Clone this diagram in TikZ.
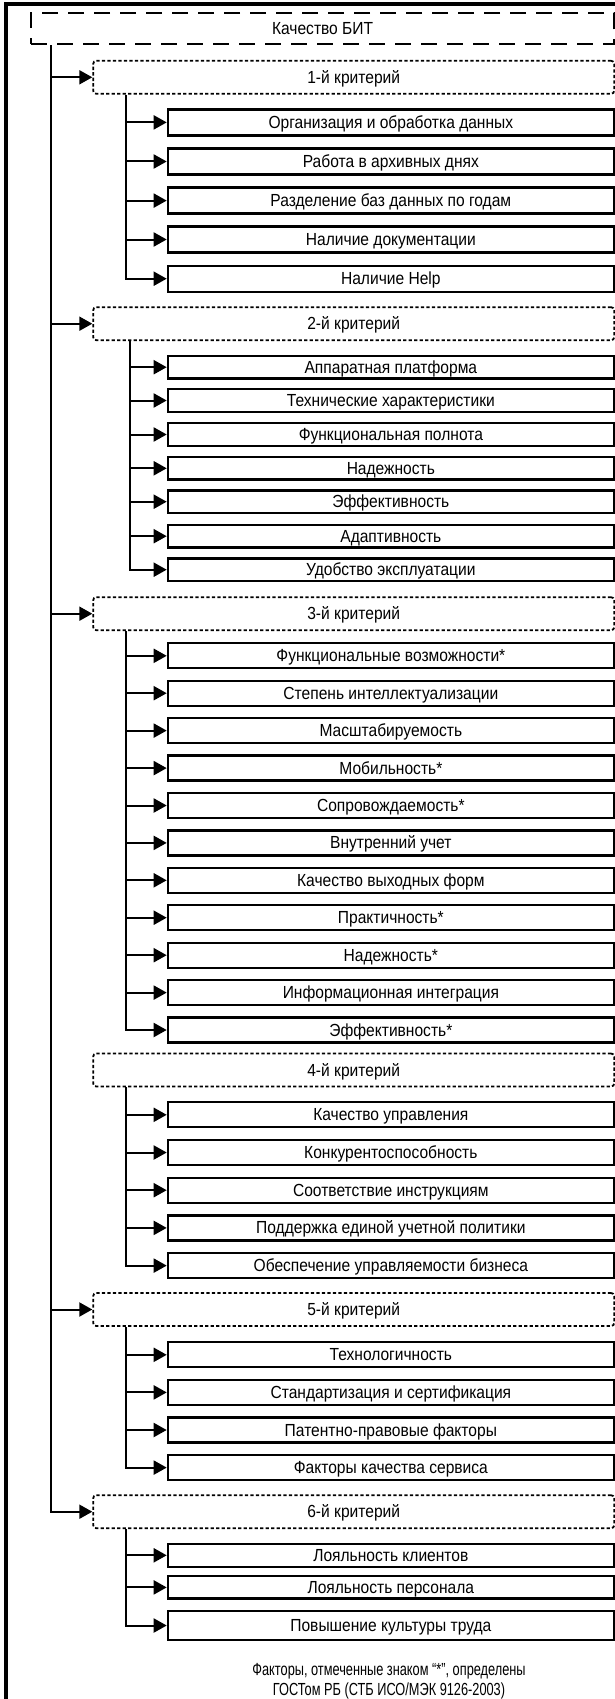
\documentclass[tikz,border=0pt]{standalone}
\usepackage{fontspec}
\setmainfont{Liberation Sans}[FakeStretch=0.89]
\newfontfamily\notefont{Liberation Sans}[FakeStretch=0.73]
\usetikzlibrary{arrows.meta,positioning}

\tikzset{
  every node/.style={font=\fontsize{17.5}{21}\selectfont,inner sep=0pt,text height=12.5pt,text depth=0.5pt},
  titlebox/.style={draw,line width=2.2pt,dash pattern=on 16pt off 10pt,minimum width=583pt,minimum height=31pt,anchor=west},
  critbox/.style={draw,line width=1.8pt,dash pattern=on 3.3pt off 2.2pt,rounded corners=3pt,minimum width=521pt,minimum height=33pt,anchor=west},
  factbox/.style={draw,line width=2.3pt,minimum width=446pt,minimum height=25pt,anchor=west},
  branch/.style={line width=2pt,-{Triangle[length=13pt,width=14pt]}},
}

\begin{document}
\begin{tikzpicture}[x=1pt,y=-1pt]
\useasboundingbox (0,0) rectangle (615,1699);
% outer frame
\draw[line width=4pt] (6,1699) -- (6,4) -- (615,4);
% root and criteria
\node[titlebox] (root) at (30,28.8) {Качество БИТ};
\coordinate (trunk) at ([xshift=20.7pt]root.south west);
\node[critbox] (k1) at (92.3,77.3) {1-й критерий};
\node[critbox] (k2) at (92.3,323.7) {2-й критерий};
\node[critbox] (k3) at (92.3,613.7) {3-й критерий};
\node[critbox] (k4) at (92.3,1070) {4-й критерий};
\node[critbox] (k5) at (92.3,1309.5) {5-й критерий};
\node[critbox] (k6) at (92.3,1511.7) {6-й критерий};
\draw[branch] (trunk) |- (k6.west);
\draw[branch] (trunk |- k1.west) -- (k1.west);
\draw[branch] (trunk |- k2.west) -- (k2.west);
\draw[branch] (trunk |- k3.west) -- (k3.west);
\draw[branch] (trunk |- k5.west) -- (k5.west);
% 1
\node[factbox,minimum height=26pt] (a1) at (166.7,122.4) {Организация и обработка данных};
\node[factbox,minimum height=26pt] (a2) at (166.7,161.5) {Работа в архивных днях};
\node[factbox,minimum height=26pt] (a3) at (166.7,200.6) {Разделение баз данных по годам};
\node[factbox,minimum height=26pt] (a4) at (166.7,239.5) {Наличие документации};
\node[factbox,minimum height=26pt] (a5) at (166.7,278.7) {Наличие Help};
\coordinate (s1) at ([xshift=33.4pt]k1.south west);
\draw[branch] (s1) |- (a5.west);
\draw[branch] (s1 |- a1.west) -- (a1.west);
\draw[branch] (s1 |- a2.west) -- (a2.west);
\draw[branch] (s1 |- a3.west) -- (a3.west);
\draw[branch] (s1 |- a4.west) -- (a4.west);
% 2
\node[factbox,minimum height=22.5pt] (b1) at (166.7,367.2) {Аппаратная платформа};
\node[factbox,minimum height=22.5pt] (b2) at (166.7,400.5) {Технические характеристики};
\node[factbox,minimum height=22.5pt] (b3) at (166.7,434.5) {Функциональная полнота};
\node[factbox,minimum height=22.5pt] (b4) at (166.7,468.3) {Надежность};
\node[factbox,minimum height=22.5pt] (b5) at (166.7,501.7) {Эффективность};
\node[factbox,minimum height=22.5pt] (b6) at (166.7,536.2) {Адаптивность};
\node[factbox,minimum height=22.5pt] (b7) at (166.7,569.7) {Удобство эксплуатации};
\coordinate (s2) at ([xshift=37.7pt]k2.south west);
\draw[branch] (s2) |- (b7.west);
\draw[branch] (s2 |- b1.west) -- (b1.west);
\draw[branch] (s2 |- b2.west) -- (b2.west);
\draw[branch] (s2 |- b3.west) -- (b3.west);
\draw[branch] (s2 |- b4.west) -- (b4.west);
\draw[branch] (s2 |- b5.west) -- (b5.west);
\draw[branch] (s2 |- b6.west) -- (b6.west);
% 3
\node[factbox] (c1) at (166.7,655.8) {Функциональные возможности*};
\node[factbox] (c2) at (166.7,693.2) {Степень интеллектуализации};
\node[factbox] (c3) at (166.7,730.6) {Масштабируемость};
\node[factbox] (c4) at (166.7,768.1) {Мобильность*};
\node[factbox] (c5) at (166.7,805.5) {Сопровождаемость*};
\node[factbox] (c6) at (166.7,842.9) {Внутренний учет};
\node[factbox] (c7) at (166.7,880.3) {Качество выходных форм};
\node[factbox] (c8) at (166.7,917.7) {Практичность*};
\node[factbox] (c9) at (166.7,955.2) {Надежность*};
\node[factbox] (c10) at (166.7,992.6) {Информационная интеграция};
\node[factbox] (c11) at (166.7,1030) {Эффективность*};
\coordinate (s3) at ([xshift=33.4pt]k3.south west);
\draw[branch] (s3) |- (c11.west);
\draw[branch] (s3 |- c1.west) -- (c1.west);
\draw[branch] (s3 |- c2.west) -- (c2.west);
\draw[branch] (s3 |- c3.west) -- (c3.west);
\draw[branch] (s3 |- c4.west) -- (c4.west);
\draw[branch] (s3 |- c5.west) -- (c5.west);
\draw[branch] (s3 |- c6.west) -- (c6.west);
\draw[branch] (s3 |- c7.west) -- (c7.west);
\draw[branch] (s3 |- c8.west) -- (c8.west);
\draw[branch] (s3 |- c9.west) -- (c9.west);
\draw[branch] (s3 |- c10.west) -- (c10.west);
% 4
\node[factbox] (d1) at (166.7,1114.8) {Качество управления};
\node[factbox] (d2) at (166.7,1152.5) {Конкурентоспособность};
\node[factbox] (d3) at (166.7,1190.2) {Соответствие инструкциям};
\node[factbox] (d4) at (166.7,1227.9) {Поддержка единой учетной политики};
\node[factbox] (d5) at (166.7,1265.6) {Обеспечение управляемости бизнеса};
\coordinate (s4) at ([xshift=33.4pt]k4.south west);
\draw[branch] (s4) |- (d5.west);
\draw[branch] (s4 |- d1.west) -- (d1.west);
\draw[branch] (s4 |- d2.west) -- (d2.west);
\draw[branch] (s4 |- d3.west) -- (d3.west);
\draw[branch] (s4 |- d4.west) -- (d4.west);
% 5
\node[factbox] (e1) at (166.7,1354.8) {Технологичность};
\node[factbox] (e2) at (166.7,1392.4) {Стандартизация и сертификация};
\node[factbox] (e3) at (166.7,1430) {Патентно-правовые факторы};
\node[factbox] (e4) at (166.7,1467.6) {Факторы качества сервиса};
\coordinate (s5) at ([xshift=33.4pt]k5.south west);
\draw[branch] (s5) |- (e4.west);
\draw[branch] (s5 |- e1.west) -- (e1.west);
\draw[branch] (s5 |- e2.west) -- (e2.west);
\draw[branch] (s5 |- e3.west) -- (e3.west);
% 6
\node[factbox,minimum height=22.7pt] (f1) at (166.7,1555.3) {Лояльность клиентов};
\node[factbox,minimum height=22.3pt] (f2) at (166.7,1587.4) {Лояльность персонала};
\node[factbox,minimum height=29pt] (f3) at (166.7,1625.5) {Повышение культуры труда};
\coordinate (s6) at ([xshift=33.4pt]k6.south west);
\draw[branch] (s6) |- (f3.west);
\draw[branch] (s6 |- f1.west) -- (f1.west);
\draw[branch] (s6 |- f2.west) -- (f2.west);
% note
\node[anchor=base,font=\notefont\fontsize{17.5}{21}\selectfont] (note1) at (389,1675) {Факторы, отмеченные знаком “*”, определены};
\node[anchor=base,font=\notefont\fontsize{17.5}{21}\selectfont] (note2) at (389,1695) {ГОСТом РБ (СТБ ИСО/МЭК 9126-2003)};
\end{tikzpicture}
\end{document}
